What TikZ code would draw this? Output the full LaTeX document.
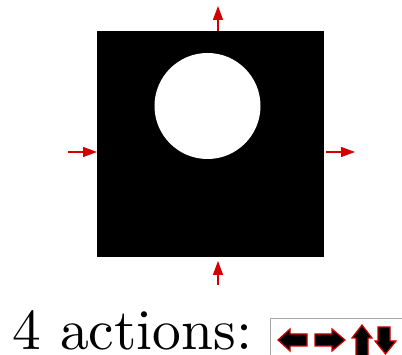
\documentclass[tikz,border=0pt]{standalone}
\usetikzlibrary{arrows.meta}
\definecolor{arrred}{RGB}{210,0,0}
\begin{document}
\begin{tikzpicture}[x=1pt,y=-1pt,
  redarrow/.style={draw=arrred,line width=1.3pt,-{Triangle[length=14pt,width=10pt]}},
  blockarrow/.style={fill=black,draw=arrred,line width=1.2pt,line join=miter}]
\useasboundingbox (0,0) rectangle (402,355);
\clip (0,0) rectangle (402,355);
% image
\fill[black] (97,31) rectangle (324,257);
\fill[white] (207.5,106) circle (53);
% red arrows
\coordinate (tS) at (218,31); \coordinate (tE) at (218,6);
\coordinate (bS) at (218,285); \coordinate (bE) at (218,261);
\coordinate (lS) at (68,152); \coordinate (lE) at (97,152);
\coordinate (rS) at (326,152); \coordinate (rE) at (355,152);
\draw[redarrow] (tS) -- (tE);
\draw[redarrow] (bS) -- (bE);
\draw[redarrow] (lS) -- (lE);
\draw[redarrow] (rS) -- (rE);
% text
\node[anchor=base west,inner sep=0pt] (lbl) at (12,350) {\scalebox{5.75}{\fontsize{10}{12}\selectfont 4 actions:}};
% action box
\draw[gray!70,line width=1pt] (270,319) rectangle (420,370);
% left arrow
\draw[blockarrow] (278,340) -- (290,329) -- (290,334) -- (307,334) -- (307,346) -- (290,346) -- (290,351) -- cycle;
% right arrow
\draw[blockarrow] (345,340) -- (332,329) -- (332,334) -- (315,334) -- (315,346) -- (332,346) -- (332,351) -- cycle;
% up arrow
\draw[blockarrow] (362,325) -- (372,338) -- (368,338) -- (368,362) -- (356,362) -- (356,338) -- (352,338) -- cycle;
% down arrow
\draw[blockarrow] (385.5,354) -- (396,341) -- (390,341) -- (390,327) -- (378,327) -- (378,341) -- (375,341) -- cycle;
\end{tikzpicture}
\end{document}
